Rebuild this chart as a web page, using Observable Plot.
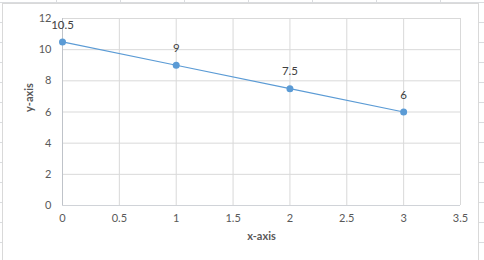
<!DOCTYPE html>
<html>
<head>
<meta charset="utf-8">
<script src="https://cdn.jsdelivr.net/npm/d3@7"></script>
<script src="https://cdn.jsdelivr.net/npm/@observablehq/plot@0.6"></script>
<style>
  html, body { margin: 0; padding: 0; }
  body {
    width: 484px; height: 260px; overflow: hidden; position: relative;
    background-color: #ffffff;
    background-image:
      repeating-linear-gradient(to right, transparent 0px, transparent 56px, #dadcdf 56px, #dadcdf 57px, transparent 57px, transparent 64px),
      repeating-linear-gradient(to bottom, transparent 0px, transparent 2px, #dadcdf 2px, #dadcdf 3px, transparent 3px, transparent 20px);
  }
  #frame {
    position: absolute; left: 2px; top: 3px; width: 477px; height: 270px;
    background: #ffffff; border: 1px solid #d9d9d9; box-sizing: border-box;
  }
  #chart { position: absolute; left: 0; top: 0; }
</style>
</head>
<body>
<div id="frame"></div>
<div id="chart"></div>
<script>
const xValues = [0, 1, 2, 3];
const yValues = [10.5, 9, 7.5, 6];
const xTicks = [0, 0.5, 1, 1.5, 2, 2.5, 3, 3.5];
const yTicks = [0, 2, 4, 6, 8, 10, 12];
const xTitle = "x-axis";
const yTitle = "y-axis";

const data = xValues.map((x, i) => ({x, y: yValues[i]}));
const font = "Lato, 'Open Sans', sans-serif";
const textColor = "#595959";

const plot = Plot.plot({
  width: 484,
  height: 260,
  marginLeft: 62,
  marginRight: 24,
  marginTop: 18,
  marginBottom: 55,
  style: { fontFamily: font, fontSize: "11px", color: textColor, background: "transparent", overflow: "visible" },
  x: { domain: [0, 3.5] },
  y: { domain: [0, 12] },
  marks: [
    Plot.gridX(xTicks, { stroke: "#d9d9d9", strokeOpacity: 1 }),
    Plot.gridY(yTicks, { stroke: "#d9d9d9", strokeOpacity: 1 }),
    Plot.ruleX([0], { stroke: "#bfc3c9" }),
    Plot.ruleY([0], { stroke: "#d0d3d8" }),
    Plot.axisX(xTicks, { tickSize: 0, tickPadding: 9, label: null, fill: textColor, fontSize: 11, tickFormat: d => String(d) }),
    Plot.axisY(yTicks, { tickSize: 0, tickPadding: 11, label: null, fill: textColor, fontSize: 11, tickFormat: d => String(d) }),
    Plot.line(data, { x: "x", y: "y", stroke: "#5b9bd5", strokeWidth: 1.1 }),
    Plot.dot(data, { x: "x", y: "y", r: 3.5, fill: "#5b9bd5", stroke: "none" }),
    Plot.text(data, { x: "x", y: "y", text: d => String(d.y), dy: -17, fill: "#404040", fontSize: 11.5 }),
    Plot.text([xTitle], { frameAnchor: "bottom", dy: 34, fill: textColor, fontWeight: "bold", fontSize: 11 }),
    Plot.text([yTitle], { frameAnchor: "left", dx: -33, rotate: -90, fill: textColor, fontWeight: "bold", fontSize: 11 })
  ]
});
document.getElementById("chart").appendChild(plot);
</script>
</body>
</html>
